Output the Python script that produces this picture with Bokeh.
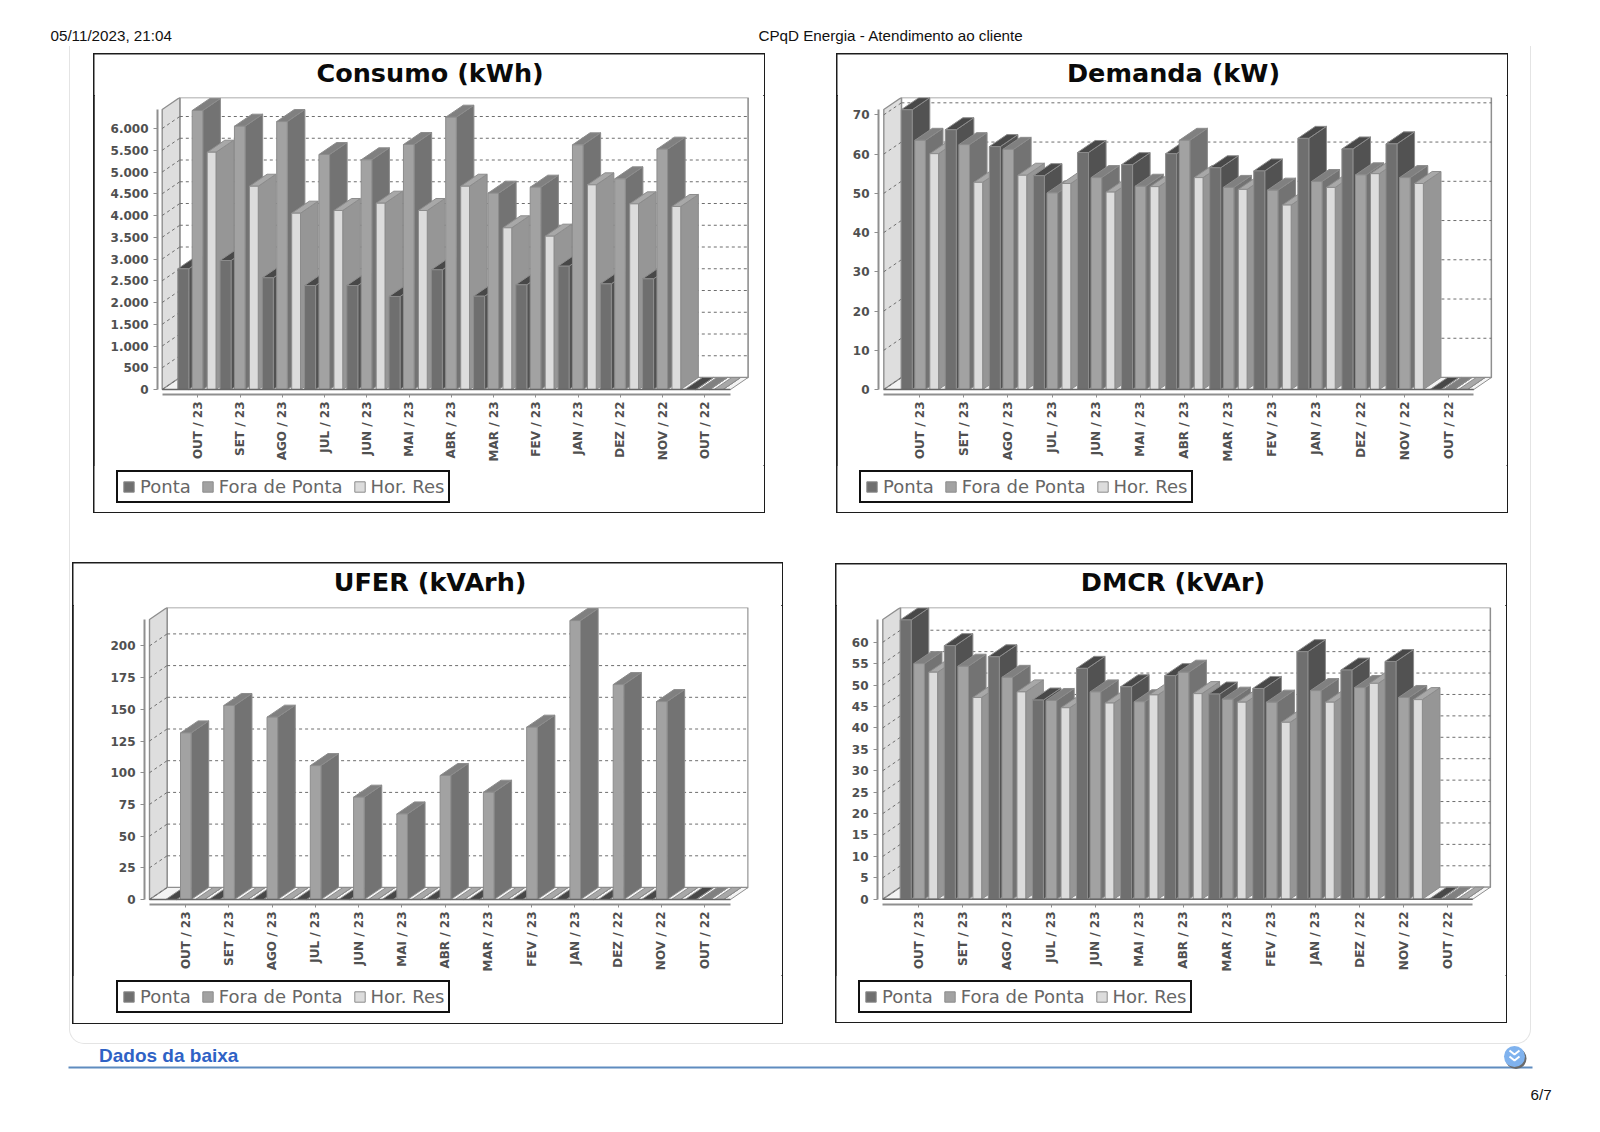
import math
import numpy as np
from bokeh.core.properties import value
from bokeh.embed import file_html
from bokeh.layouts import column, row
from bokeh.models import (ColumnDataSource, FixedTicker, Legend, LegendItem, Range1d)
from bokeh.plotting import figure
from bokeh.resources import INLINE

# ---- data ----
categories = ["OUT / 23", "SET / 23", "AGO / 23", "JUL / 23", "JUN / 23", "MAI / 23", "ABR / 23",
              "MAR / 23", "FEV / 23", "JAN / 23", "DEZ / 22", "NOV / 22", "OUT / 22"]
series_names = ["Ponta", "Fora de Ponta", "Hor. Res"]

consumo_ponta = [2775, 2965, 2568, 2390, 2390, 2138, 2752, 2145, 2407, 2835, 2429, 2544, 0]
consumo_fora = [6414, 6053, 6160, 5402, 5280, 5632, 6260, 4513, 4651, 5624, 4843, 5525, 0]
consumo_hor = [5455, 4673, 4053, 4115, 4283, 4115, 4673, 3717, 3525, 4705, 4268, 4207, 0]
consumo_ticks = [0, 500, 1000, 1500, 2000, 2500, 3000, 3500, 4000, 4500, 5000, 5500, 6000]
consumo_tick_labels = ["0", "500", "1.000", "1.500", "2.000", "2.500", "3.000", "3.500", "4.000",
                       "4.500", "5.000", "5.500", "6.000"]

demanda_ponta = [71.3, 66.2, 61.9, 54.5, 60.4, 57.3, 60.1, 56.5, 55.7, 64.0, 61.3, 62.6, 0]
demanda_fora = [63.5, 62.4, 61.2, 50.1, 54.0, 51.8, 63.5, 51.5, 50.8, 53.0, 54.7, 54.0, 0]
demanda_hor = [60.1, 52.8, 54.6, 52.5, 50.3, 51.7, 54.0, 51.0, 47.0, 51.5, 55.0, 52.5, 0]
demanda_ticks = [0, 10, 20, 30, 40, 50, 60, 70]

ufer_ponta = [0, 0, 0, 0, 0, 0, 0, 0, 0, 0, 0, 0, 0]
ufer_fora = [131.4, 153.0, 143.8, 105.6, 80.7, 67.5, 97.8, 84.6, 135.9, 220.0, 169.5, 156.1, 0]
ufer_hor = [0, 0, 0, 0, 0, 0, 0, 0, 0, 0, 0, 0, 0]
ufer_ticks = [0, 25, 50, 75, 100, 125, 150, 175, 200]

dmcr_ponta = [65.2, 59.2, 56.6, 46.5, 53.9, 49.6, 52.2, 47.9, 49.2, 57.8, 53.5, 55.5, 0]
dmcr_fora = [55.0, 54.4, 51.8, 46.4, 48.4, 46.1, 53.0, 46.7, 46.0, 48.7, 49.4, 47.1, 0]
dmcr_hor = [53.0, 47.1, 48.4, 44.7, 45.8, 47.7, 48.0, 46.0, 41.3, 46.0, 50.4, 46.6, 0]
dmcr_ticks = [0, 5, 10, 15, 20, 25, 30, 35, 40, 45, 50, 55, 60]

# ---- styles ----
FRONT = ["#6f6f6f", "#a2a2a2", "#dcdcdc"]
SIDE = ["#525252", "#737373", "#969696"]
TOP = ["#484848", "#808080", "#a8a8a8"]
EDGE = "#8c8c8c"
WALL = "#dedede"
AXIS = "#8f8f8f"
GRID = "#6e6e6e"
TXT = "#505050"
DX, DY = 17.6, 12.0
BAR_W = [11.0, 10.6, 8.8]


def bare(width, height, xr, yr):
    f = figure(width=width, height=height, x_range=xr, y_range=yr,
               output_backend="svg", toolbar_location=None, x_axis_location=None, y_axis_location=None,
               min_border_left=0, min_border_right=0, min_border_top=0, min_border_bottom=0)
    f.grid.visible = False
    f.outline_line_color = None
    return f


def chart(title, series, ticks, labels, box, frame, base, ppu, tick0, step, wall_x, axis_end, offs,
          legend_box, title_xy, margin):
    L, T, R, B = box
    fl, ft, fr, fb = frame
    lx0, ly0, lx1, ly1 = legend_box
    head_h = ft - T - 2        # the title lies in a strip of its own over the plot
    split = ly0 - 8            # the legend lies in a strip of its own under the axis labels

    t = bare(R - L, head_h, Range1d(L, R), Range1d(T + head_h, T))
    t.text([title_xy[0]], [title_xy[1]], text=[title], text_font=value("DejaVu Sans"), text_font_style="bold",
           text_font_size="25.5px", text_align="center", text_baseline="middle", text_color="#0a0a0a")

    xr = Range1d((fl - tick0) / step, (fr - tick0) / step)
    yr = Range1d((base - fb) / ppu, (base - ft) / ppu)
    p = figure(width=R - L, height=split - T - head_h, frame_width=fr - fl, frame_height=fb - ft,
               x_range=xr, y_range=yr, output_backend="svg", toolbar_location=None,
               min_border_left=fl - L, min_border_right=R - fr,
               min_border_top=2, min_border_bottom=split - fb)
    p.outline_line_color = None
    p.grid.visible = False
    p.background_fill_color = "white"

    x0 = (wall_x - tick0) / step
    x1 = (axis_end - tick0) / step
    dx, dy = DX / step, DY / ppu
    top_v = (base - (ft + DY)) / ppu

    # back wall, floor, left wall
    p.patch([x0 + dx, x1 + dx, x1 + dx, x0 + dx], [dy, dy, top_v + dy, top_v + dy],
            fill_color="white", line_color=AXIS, line_width=1.6)
    p.patch([x0, x1, x1 + dx, x0 + dx], [0, 0, dy, dy], fill_color="#f4f4f4", line_color=AXIS, line_width=1)
    p.patch([x0, x0 + dx, x0 + dx, x0], [0, dy, top_v + dy, top_v], fill_color=WALL, line_color=AXIS,
            line_width=1.4)

    # grid
    p.multi_line([[x0 + dx, x1 + dx] for v in ticks if v > 0], [[v + dy, v + dy] for v in ticks if v > 0],
                 line_color=GRID, line_dash="3 3", line_width=1)
    p.multi_line([[x0, x0 + dx] for v in ticks], [[v, v + dy] for v in ticks],
                 line_color=GRID, line_dash="3 3", line_width=1)

    # bars: painted left to right, series by series
    xs, ys, fills = [], [], []
    for i in range(len(categories)):
        for s, vals in enumerate(series):
            v = vals[i]
            a = i + offs[s] / step
            b = a + BAR_W[s] / step
            xs += [[b, b + dx, b + dx, b], [a, b, b + dx, a + dx], [a, b, b, a]]
            ys += [[0, dy, v + dy, v], [v, v, v + dy, v + dy], [0, 0, v, v]]
            fills += [SIDE[s], TOP[s], FRONT[s]]
    src = ColumnDataSource(dict(xs=xs, ys=ys, fill=fills))
    p.patches("xs", "ys", source=src, fill_color="fill", line_color=EDGE, line_width=1)

    # front edge of the floor
    p.line([x0, x1], [0, 0], line_color="#666666", line_width=1.4)

    # axes
    ya = p.yaxis[0]
    ya.ticker = FixedTicker(ticks=list(ticks))
    ya.major_label_overrides = {t_: l for t_, l in zip(ticks, labels)}
    ya.bounds = (0, (base - (ft + DY)) / ppu)
    ya.axis_line_color = AXIS
    ya.axis_line_width = 2
    ya.major_tick_line_color = AXIS
    ya.major_tick_in = 0
    ya.major_tick_out = 4
    ya.minor_tick_line_color = None
    ya.major_label_standoff = 5
    ya.major_label_text_font = "DejaVu Sans"
    ya.major_label_text_font_style = "bold"
    ya.major_label_text_font_size = "12px"
    ya.major_label_text_color = TXT

    xa = p.xaxis[0]
    xa.ticker = FixedTicker(ticks=list(range(len(categories))))
    xa.major_label_overrides = {i: c for i, c in enumerate(categories)}
    xa.bounds = (x0, x1)
    xa.axis_line_color = AXIS
    xa.axis_line_width = 2
    xa.major_tick_line_color = AXIS
    xa.major_tick_in = 0
    xa.major_tick_out = 3
    xa.minor_tick_line_color = None
    xa.major_label_orientation = math.pi / 2
    xa.major_label_standoff = 4
    xa.major_label_text_font = "DejaVu Sans"
    xa.major_label_text_font_style = "bold"
    xa.major_label_text_font_size = "12px"
    xa.major_label_text_color = TXT

    # legend strip
    s = bare(R - L, B - split, Range1d(0, 1), Range1d(0, 1))
    items = []
    for k, n in enumerate(series_names):
        sw = s.quad(left=[2], right=[3], top=[3], bottom=[2], fill_color=FRONT[k], line_color=EDGE, line_width=1)
        items.append(LegendItem(label=n, renderers=[sw]))
    leg = Legend(items=items, orientation="horizontal", location=(lx0 - L, B - ly1),
                 border_line_color="#111111", border_line_width=2, border_line_alpha=1,
                 background_fill_color="white", background_fill_alpha=1,
                 padding=4, spacing=10, margin=0, glyph_width=13, glyph_height=13,
                 label_standoff=5, label_text_font="DejaVu Sans", label_text_font_size="18px",
                 label_text_color="#666666", label_height=18)
    s.add_layout(leg, "center")

    box_col = column(row(t), p, row(s), width=R - L, height=B - T)
    box_col.margin = margin
    box_col.styles = {"outline": "2px solid #1c1c1c", "outline-offset": "-1px"}
    return box_col


c1 = chart("Consumo (kWh)", [consumo_ponta, consumo_fora, consumo_hor], consumo_ticks, consumo_tick_labels,
           (94, 54, 764, 512), (157, 97, 749, 394), 389, 0.0435, 197.3, 42.25, 161.7, 730,
           (-20, -5.6, 9.4), (116, 473, 450, 503), (429.6, 72), (8, 0, 0, 24))
c2 = chart("Demanda (kW)", [demanda_ponta, demanda_fora, demanda_hor], demanda_ticks,
           [str(v) for v in demanda_ticks],
           (837, 54, 1507, 512), (878, 97, 1492, 394), 389, 3.924, 919.3, 44.07, 883.3, 1473.3,
           (-18.6, -5, 10), (859, 473, 1193, 503), (1173, 72), (8, 0, 0, 73))
c3 = chart("UFER (kVArh)", [ufer_ponta, ufer_fora, ufer_hor], ufer_ticks, [str(v) for v in ufer_ticks],
           (73, 563, 782, 1023), (144, 607, 748, 904), 899, 1.268, 185, 43.27, 149, 730,
           (-19.7, -5, 10), (116, 983, 450, 1013), (429.6, 581), (51, 0, 0, 3))
c4 = chart("DMCR (kVAr)", [dmcr_ponta, dmcr_fora, dmcr_hor], dmcr_ticks, [str(v) for v in dmcr_ticks],
           (837, 564, 1507, 1022), (878, 607, 1492, 904), 898.7, 4.283, 919.3, 44.07, 883.3, 1473.3,
           (-18.6, -5, 10), (859, 983, 1193, 1013), (1173.5, 581), (52, 0, 0, 54))


# ---- the printed page around the charts ----
def strip(h, y_top):
    return bare(1600, h, Range1d(0, 1600), Range1d(y_top + h, y_top))


head = strip(46, 0)
head.text([50], [35], text=["05/11/2023, 21:04"], text_font=value("Liberation Sans"), text_font_size="15.2px",
          text_baseline="middle", text_color="#111111")
head.text([890.5], [35], text=["CPqD Energia - Atendimento ao cliente"], text_font=value("Liberation Sans"),
          text_font_size="15.2px", text_baseline="middle", text_align="center", text_color="#111111")

foot = strip(86, 1044)
foot.line([68, 1532], [1067, 1067], line_color="#5f8cbf", line_width=2)
foot.text([1530], [1094], text=["6/7"], text_font=value("Liberation Sans"), text_font_size="15.2px",
          text_baseline="middle", text_color="#111111")
foot.text([98.5], [1055], text=["Dados da baixa"], text_font=value("Liberation Sans"), text_font_size="19px",
          text_font_style="bold", text_baseline="middle", text_color="#2f62c5")
foot.scatter([1515.5], [1058], size=21, marker="circle", fill_color="#6a6a6a", line_color=None)
foot.scatter([1514], [1056], size=21, marker="circle", fill_color="#7fb2ee", line_color=None)
foot.multi_line([[1509, 1514, 1519], [1509, 1514, 1519]], [[1050, 1054, 1050], [1056, 1060, 1056]],
                line_color="white", line_width=2)

panel = column(row(c1, c2), row(c3, c4), width=1462, height=998)
panel.margin = (0, 0, 0, 69)
panel.styles = {"border-left": "1.5px solid #e4e4e4", "border-right": "1.5px solid #e4e4e4",
                "border-bottom": "1.5px solid #e4e4e4", "border-radius": "0 0 15px 15px",
                "box-sizing": "border-box"}

root = column(head, panel, foot, width=1600)
open("out.html", "w").write(file_html(root, INLINE))
